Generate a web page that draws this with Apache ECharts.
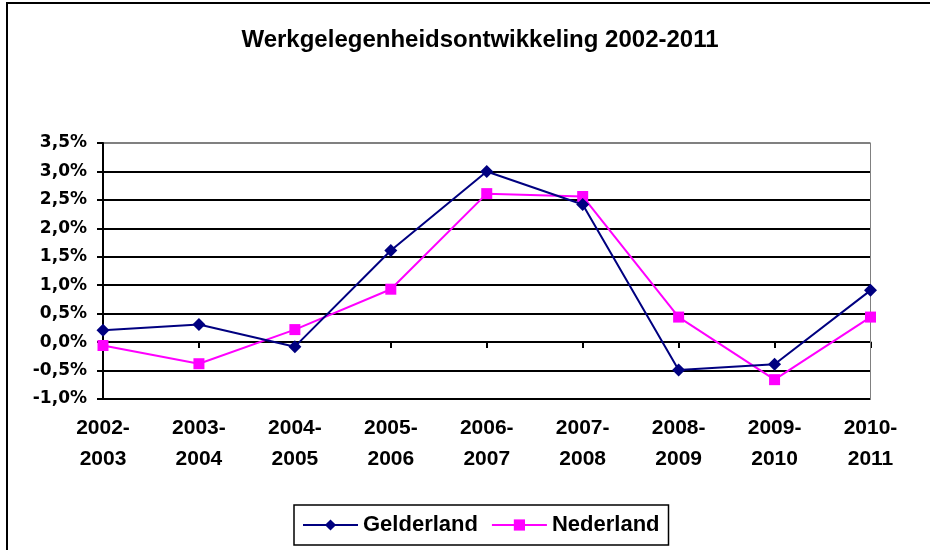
<!DOCTYPE html>
<html><head><meta charset="utf-8">
<script src="https://cdn.jsdelivr.net/npm/echarts@6/dist/echarts.min.js"></script>
<style>html,body{margin:0;padding:0;background:#fff}#c{width:930px;height:550px}</style>
</head><body><div id="c"></div>
<script>
var categories = ['2002-\n2003','2003-\n2004','2004-\n2005','2005-\n2006','2006-\n2007','2007-\n2008','2008-\n2009','2009-\n2010','2010-\n2011'];
var gelderland = [0.21, 0.31, -0.08, 1.61, 3.0, 2.42, -0.49, -0.39, 0.91];
var nederland = [-0.06, -0.38, 0.22, 0.93, 2.61, 2.56, 0.44, -0.66, 0.44];
var titleText = 'Werkgelegenheidsontwikkeling 2002-2011';
var FONT = '"Liberation Sans", Arial, sans-serif';
var YFONT = '"DejaVu Sans", sans-serif';
var chart = echarts.init(document.getElementById('c'));
var gridColors = ['#000','#000','#000','#000','#000','#000','#000','#000','#000','#808080'];
chart.setOption({
  animation: false,
  backgroundColor: '#fff',
  title: {text: titleText, left: 480, textAlign: 'center', top: 28, padding: 0,
    textStyle: {fontFamily: FONT, fontWeight: 'bold', fontSize: 24, color: '#000'}},
  graphic: [
    {type: 'rect', shape: {x: 7, y: 3, width: 960, height: 600}, style: {fill: 'none', stroke: '#000', lineWidth: 2}, silent: true},
    {type: 'line', shape: {x1: 870.5, y1: 143, x2: 870.5, y2: 399}, style: {stroke: '#808080', lineWidth: 1}, z: 1}
  ],
  legend: {
    left: 294, top: 505,
    padding: [9, 9, 9, 8],
    borderColor: '#000', borderWidth: 1.5,
    itemWidth: 55, itemHeight: 14, itemGap: 13,
    textStyle: {fontFamily: FONT, fontWeight: 'bold', fontSize: 22, color: '#000'},
    data: ['Gelderland', 'Nederland']
  },
  grid: {left: 103, right: 59.5, top: 143, bottom: 151, containLabel: false},
  xAxis: {
    type: 'category', data: categories, boundaryGap: false,
    axisLine: {lineStyle: {color: '#000', width: 2}},
    axisTick: {show: true, length: 6, lineStyle: {color: '#000', width: 2}},
    axisLabel: {fontFamily: FONT, fontWeight: 'bold', fontSize: 21, color: '#000', lineHeight: 31, margin: 14, interval: 0},
    splitLine: {show: false}
  },
  yAxis: {
    type: 'value', min: -1.0, max: 3.5, interval: 0.5,
    axisLine: {show: true, lineStyle: {color: '#000', width: 2}},
    axisTick: {show: true, length: 6, lineStyle: {color: '#000', width: 2}},
    axisLabel: {fontFamily: YFONT, fontWeight: 'bold', fontSize: 17, color: '#000', margin: 16,
      formatter: function (v) { return v.toFixed(1).replace('.', ',') + '%'; }},
    splitLine: {show: true, lineStyle: {color: gridColors, width: 2}}
  },
  series: [
    {name: 'Gelderland', type: 'line', data: gelderland, symbol: 'diamond', symbolSize: 13,
      lineStyle: {color: '#000080', width: 2}, itemStyle: {color: '#000080'}, z: 3},
    {name: 'Nederland', type: 'line', data: nederland, symbol: 'rect', symbolSize: 11,
      lineStyle: {color: '#FF00FF', width: 2}, itemStyle: {color: '#FF00FF'}, z: 2}
  ]
});
</script></body></html>
